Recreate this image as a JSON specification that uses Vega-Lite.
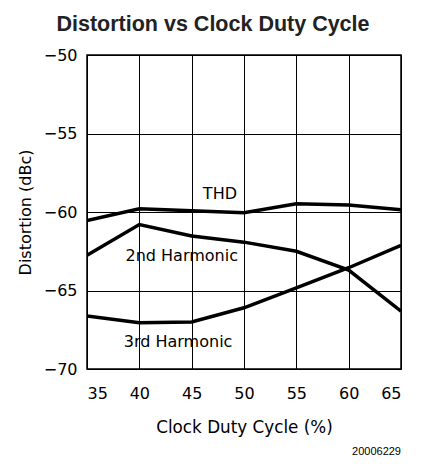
{
  "$schema": "https://vega.github.io/schema/vega-lite/v6.json",
  "width": 314,
  "height": 314,
  "autosize": "none",
  "padding": {"left": 87, "top": 55, "right": 21, "bottom": 103},
  "background": "white",
  "config": {
    "view": {"stroke": "black", "strokeWidth": 1.5},
    "font": "DejaVu Sans"
  },
  "title": {
    "text": "Distortion vs Clock Duty Cycle",
    "font": "Liberation Sans",
    "fontSize": 21.5,
    "fontWeight": "bold",
    "color": "#222",
    "anchor": "middle",
    "dx": -31,
    "offset": 12
  },
  "datasets": {
    "curves": [
      {"duty": 35, "dist": -60.55, "series": "THD"},
      {"duty": 40, "dist": -59.8, "series": "THD"},
      {"duty": 45, "dist": -59.92, "series": "THD"},
      {"duty": 50, "dist": -60.05, "series": "THD"},
      {"duty": 55, "dist": -59.48, "series": "THD"},
      {"duty": 60, "dist": -59.56, "series": "THD"},
      {"duty": 65, "dist": -59.85, "series": "THD"},
      {"duty": 35, "dist": -62.76, "series": "2nd Harmonic"},
      {"duty": 40, "dist": -60.8, "series": "2nd Harmonic"},
      {"duty": 45, "dist": -61.53, "series": "2nd Harmonic"},
      {"duty": 50, "dist": -61.92, "series": "2nd Harmonic"},
      {"duty": 55, "dist": -62.5, "series": "2nd Harmonic"},
      {"duty": 60, "dist": -63.7, "series": "2nd Harmonic"},
      {"duty": 65, "dist": -66.32, "series": "2nd Harmonic"},
      {"duty": 35, "dist": -66.63, "series": "3rd Harmonic"},
      {"duty": 40, "dist": -67.06, "series": "3rd Harmonic"},
      {"duty": 45, "dist": -67.0, "series": "3rd Harmonic"},
      {"duty": 50, "dist": -66.1, "series": "3rd Harmonic"},
      {"duty": 55, "dist": -64.83, "series": "3rd Harmonic"},
      {"duty": 60, "dist": -63.55, "series": "3rd Harmonic"},
      {"duty": 65, "dist": -62.12, "series": "3rd Harmonic"}
    ],
    "labels": [
      {"duty": 47.7, "dist": -58.85, "label": "THD"},
      {"duty": 44.05, "dist": -62.8, "label": "2nd Harmonic"},
      {"duty": 43.7, "dist": -68.3, "label": "3rd Harmonic"}
    ],
    "footer": [
      {"duty": 65, "dist": -70, "label": "20006229"}
    ]
  },
  "layer": [
    {
      "data": {"name": "curves"},
      "mark": {"type": "line", "color": "black", "strokeWidth": 3.5, "clip": true},
      "encoding": {
        "x": {
          "field": "duty", "type": "quantitative",
          "scale": {"domain": [35, 65], "nice": false},
          "axis": {
            "title": "Clock Duty Cycle (%)",
            "values": [35, 40, 45, 50, 55, 60, 65],
            "grid": true, "gridColor": "black", "gridOpacity": 1, "gridWidth": 1,
            "ticks": false, "domain": false,
            "labelFontSize": 16, "labelColor": "black", "labelPadding": 16,
            "labelFont": "DejaVu Sans",
            "titleFont": "DejaVu Sans", "titleFontSize": 16.8, "titleFontWeight": "normal",
            "titleColor": "black", "titlePadding": 18
          }
        },
        "y": {
          "field": "dist", "type": "quantitative",
          "scale": {"domain": [-70, -50], "nice": false},
          "axis": {
            "title": "Distortion (dBc)",
            "values": [-70, -65, -60, -55, -50],
            "grid": true, "gridColor": "black", "gridOpacity": 1, "gridWidth": 1,
            "ticks": false, "domain": false,
            "labelFontSize": 16, "labelColor": "black", "labelPadding": 10,
            "labelFont": "DejaVu Sans",
            "titleFont": "DejaVu Sans", "titleFontSize": 16, "titleFontWeight": "normal",
            "titleColor": "black", "titlePadding": 10
          }
        },
        "detail": {"field": "series"}
      }
    },
    {
      "data": {"name": "labels"},
      "mark": {"type": "text", "font": "DejaVu Sans", "fontSize": 16, "color": "black", "align": "center", "baseline": "middle"},
      "encoding": {
        "x": {"field": "duty", "type": "quantitative"},
        "y": {"field": "dist", "type": "quantitative"},
        "text": {"field": "label"}
      }
    },
    {
      "data": {"name": "footer"},
      "mark": {"type": "text", "font": "Liberation Sans", "fontSize": 11, "color": "black", "align": "right", "baseline": "middle", "dy": 83},
      "encoding": {
        "x": {"field": "duty", "type": "quantitative"},
        "y": {"field": "dist", "type": "quantitative"},
        "text": {"field": "label"}
      }
    }
  ]
}
